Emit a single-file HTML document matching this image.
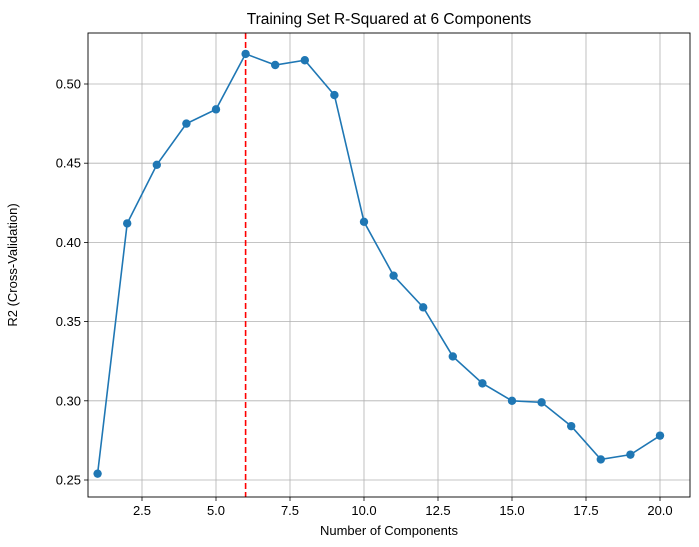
<!DOCTYPE html>
<html><head><meta charset="utf-8"><style>
body{margin:0;background:#fff;}
svg{display:block;font-family:"Liberation Sans","DejaVu Sans",sans-serif;}
</style></head><body>
<svg id="chart" width="699" height="547" viewBox="0 0 699 547"></svg>
<script>
const components=[1,2,3,4,5,6,7,8,9,10,11,12,13,14,15,16,17,18,19,20];
const r2Values=[0.254,0.412,0.449,0.475,0.484,0.519,0.512,0.515,0.493,0.413,0.379,0.359,0.328,0.311,0.300,0.299,0.284,0.263,0.266,0.278];
const xTicks=[2.5,5.0,7.5,10.0,12.5,15.0,17.5,20.0];
const yTicks=[0.25,0.30,0.35,0.40,0.45,0.50];
const selectedComponents=6;

const L=88,R=690,T=33,B=497;
const xs=v=>216+(v-5)*29.6;
const ys=v=>480-(v-0.25)*1584;
const svg=document.getElementById('chart');
const NS='http://www.w3.org/2000/svg';
function mk(tag,attrs,parent){const e=document.createElementNS(NS,tag);for(const k in attrs)e.setAttribute(k,attrs[k]);(parent||svg).appendChild(e);return e;}

const grid=mk('g',{});


xTicks.forEach(t=>{
  const x=xs(t);
  mk('line',{x1:x,x2:x,y1:T,y2:B,stroke:'#b0b0b0','stroke-width':0.8},grid);
  mk('line',{x1:x,x2:x,y1:B,y2:B+4,stroke:'#000','stroke-width':0.8});
  const tx=mk('text',{x:x,y:B+18,'font-size':13,'text-anchor':'middle',fill:'#000'});
  tx.textContent=t.toFixed(1);
  
  
});
yTicks.forEach(t=>{
  const y=ys(t);
  mk('line',{x1:L,x2:R,y1:y,y2:y,stroke:'#b0b0b0','stroke-width':0.8},grid);
  mk('line',{x1:L-4,x2:L,y1:y,y2:y,stroke:'#000','stroke-width':0.8});
  const tx=mk('text',{x:L-7,y:y+4.5,'font-size':13,'text-anchor':'end',fill:'#000'});
  tx.textContent=t.toFixed(2);
  
  
});

const vline=mk('line',{x1:xs(selectedComponents),x2:xs(selectedComponents),y1:T,y2:B,stroke:'#ff0000','stroke-width':1.6,'stroke-dasharray':'6,3'});



const line=mk('polyline',{points:components.map((c,i)=>xs(c)+','+ys(r2Values[i])).join(' '),fill:'none',stroke:'#1f77b4','stroke-width':1.6});


components.forEach((c,i)=>{
  const p=mk('circle',{cx:xs(c),cy:ys(r2Values[i]),r:4.2,fill:'#1f77b4'});
  
  
});

const frame=mk('rect',{x:L,y:T,width:R-L,height:B-T,fill:'none',stroke:'#000','stroke-width':0.9});



const title=mk('text',{x:(L+R)/2,y:24,'font-size':15.5,'text-anchor':'middle',fill:'#000'});
title.textContent='Training Set R-Squared at 6 Components';


const xl=mk('text',{x:(L+R)/2,y:535,'font-size':13,'text-anchor':'middle',fill:'#000'});
xl.textContent='Number of Components';


const yl=mk('text',{x:0,y:0,'font-size':13,'text-anchor':'middle',fill:'#000',transform:'translate(21,'+((T+B)/2)+') rotate(-90)'});
yl.setAttribute('transform','translate(21,'+((T+B)/2)+') rotate(-90)');
yl.setAttribute('x','0');
yl.setAttribute('y','-4');
yl.textContent='R2 (Cross-Validation)';


</script>
</body></html>
